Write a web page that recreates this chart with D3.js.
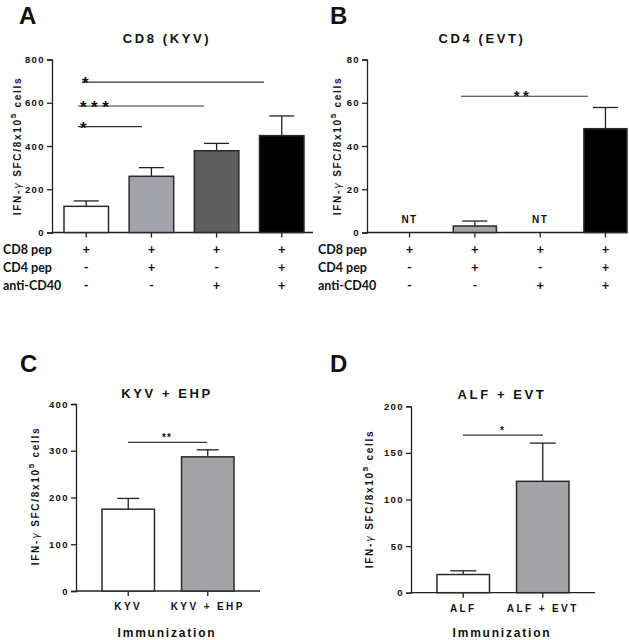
<!DOCTYPE html>
<html><head><meta charset="utf-8">
<script src="https://cdn.jsdelivr.net/npm/d3@7"></script>
<style>
body{margin:0;background:#fff;}
svg{display:block;}
text{font-family:"Liberation Sans",Arial,sans-serif;fill:#111;}
</style></head>
<body>
<svg id="chart" width="629" height="640"></svg>
<script>
// ---------- data ----------
const rowLabels = ["CD8 pep", "CD4 pep", "anti-CD40"];
const groupSigns = [["+","-","-"],["+","+","-"],["+","-","+"],["+","+","+"]];
const groupIds = ["g1","g2","g3","g4"];

const cd8Means = [121, 260, 378, 448];
const cd8Sem   = [25, 40, 34, 91];
const cd8Ticks = [0, 200, 400, 600, 800];

const cd4Means = [null, 3, null, 48];
const cd4Sem   = [null, 2.3, null, 9.8];
const cd4Ticks = [0, 20, 40, 60, 80];

const kyvCats  = ["KYV", "KYV + EHP"];
const kyvMeans = [175, 287];
const kyvSem   = [23, 15];
const kyvTicks = [0, 100, 200, 300, 400];

const alfCats  = ["ALF", "ALF + EVT"];
const alfMeans = [19.5, 119.5];
const alfSem   = [4, 41];
const alfTicks = [0, 50, 100, 150, 200];

// ---------- drawing ----------
const svg = d3.select("#chart");
const AX = "#222";

function panel(o){
  const g = svg.append("g");
  const y = d3.scaleLinear().domain([0, o.ticks[o.ticks.length-1]]).range([o.y0, o.y1]);
  const x = d3.scaleBand().domain(o.cats).range(o.xr).paddingInner(o.pad).paddingOuter(0);

  // letter + title
  g.append("text").attr("x", o.letterX).attr("y", o.letterY)
    .style("font-size","24px").style("font-weight","bold").text(o.letter);
  g.append("text").attr("x", o.titleX).attr("y", o.titleY).attr("text-anchor","middle")
    .style("font-size","13px").style("font-weight","bold").style("letter-spacing","2.6px")
    .text(o.title);

  // y axis
  const ya = g.append("g").attr("transform",`translate(${o.ax},0)`)
    .call(d3.axisLeft(y).tickValues(o.ticks).tickSize(5).tickPadding(2));
  ya.select(".domain").attr("stroke",AX).attr("stroke-width",1.3);
  ya.selectAll(".tick line").attr("stroke",AX).attr("stroke-width",1.3);
  ya.selectAll(".tick text").style("font-size","9.5px").style("font-weight","bold")
    .style("letter-spacing","1.4px").style("font-family","'Liberation Sans',Arial,sans-serif").attr("fill","#111");

  // x axis
  const xa = g.append("g").attr("transform",`translate(0,${o.y0})`)
    .call(d3.axisBottom(x).tickSize(5).tickFormat(""));
  xa.select(".domain").remove();
  xa.selectAll(".tick line").attr("stroke",AX).attr("stroke-width",1.3);
  g.append("line").attr("x1",o.ax).attr("x2",o.axEnd).attr("y1",o.y0).attr("y2",o.y0)
    .attr("stroke",AX).attr("stroke-width",1.3);

  // y label
  const yl = g.append("text").attr("transform",`translate(${o.ylX},${o.ylY}) rotate(-90)`)
    .attr("text-anchor","middle").style("font-size","10px").style("font-weight","bold")
    .style("letter-spacing","1.7px");
  yl.append("tspan").text("IFN-");
  yl.append("tspan").style("font-family","'DejaVu Sans',sans-serif").style("font-weight","normal").style("font-style","italic").text("γ");
  yl.append("tspan").text(" SFC/8x10");
  yl.append("tspan").attr("dy",-5).style("font-size","8px").text("5");
  yl.append("tspan").attr("dy",5).text(" cells");

  // bars + error bars
  const cap = o.cap;
  o.means.forEach((m,i)=>{
    const cx = x(o.cats[i]) + x.bandwidth()/2;
    if(m === null){
      g.append("text").attr("x",cx).attr("y",o.y0-10).attr("text-anchor","middle")
        .style("font-size","10px").style("font-weight","bold").style("letter-spacing","1.5px").text("NT");
      return;
    }
    const top = y(m + o.sem[i]);
    g.append("line").attr("x1",cx).attr("x2",cx).attr("y1",y(m)).attr("y2",top).attr("stroke",AX).attr("stroke-width",1.3);
    g.append("line").attr("x1",cx-cap/2).attr("x2",cx+cap/2).attr("y1",top).attr("y2",top).attr("stroke",AX).attr("stroke-width",1.3);
    g.append("rect").attr("x",x(o.cats[i])).attr("width",x.bandwidth())
      .attr("y",y(m)).attr("height",o.y0-y(m))
      .attr("fill",o.colors[i]).attr("stroke","#2a2a2a").attr("stroke-width",1.5);
  });

  // significance lines
  o.sig.forEach(s=>{
    g.append("line").attr("x1",s.x1).attr("x2",s.x2).attr("y1",y(s.v)).attr("y2",y(s.v))
      .attr("stroke","#333").attr("stroke-width",1.2);
    g.append("text").attr("x",s.tx).attr("y",y(s.v)+s.dy).attr("text-anchor",s.anchor)
      .style("font-size",s.fs+"px").style("font-weight","bold").style("letter-spacing",s.ls+"px").text(s.label);
  });

  return {g, x};
}

// Panel A
const pA = panel({letter:"A", letterX:19, letterY:24, title:"CD8 (KYV)", titleX:167, titleY:43,
  ticks:cd8Ticks, y0:232.5, y1:59.5, ax:52, axEnd:313, xr:[64,304], pad:0.317, cats:groupIds,
  ylX:21, ylY:146, means:cd8Means, sem:cd8Sem, cap:25,
  colors:["#ffffff","#a3a3ab","#5f5f5f","#000000"],
  sig:[{x1:82,x2:264,v:695,tx:82,dy:7,anchor:"start",fs:17,ls:0,label:"*"},
       {x1:78,x2:204,v:585,tx:80,dy:7,anchor:"start",fs:17,ls:4.5,label:"***"},
       {x1:78,x2:142,v:490,tx:80,dy:7,anchor:"start",fs:17,ls:0,label:"*"}]});

// Panel B
const pB = panel({letter:"B", letterX:330, letterY:24, title:"CD4 (EVT)", titleX:482, titleY:43,
  ticks:cd4Ticks, y0:232.5, y1:59.5, ax:367, axEnd:627, xr:[388,627], pad:0.34, cats:groupIds,
  ylX:341, ylY:146, means:cd4Means, sem:cd4Sem, cap:25,
  colors:["#ffffff","#a6a6a6","#5f5f5f","#000000"],
  sig:[{x1:461,x2:588,v:63,tx:523,dy:5,anchor:"middle",fs:15,ls:3.5,label:"**"}]});

// row labels for A and B
[[pA,3],[pB,318]].forEach(([p,lx])=>{
  rowLabels.forEach((r,j)=>{
    const yy = 254 + j*18;
    p.g.append("text").attr("x",lx).attr("y",yy)
      .style("font-family","Lato,'Open Sans',sans-serif").style("font-size","12.5px").style("font-weight","bold").text(r);
    groupSigns.forEach((s,i)=>{
      p.g.append("text").attr("x",p.x(groupIds[i])+p.x.bandwidth()/2).attr("y",yy)
        .attr("text-anchor","middle").style("font-family","Lato,'Open Sans',sans-serif")
        .style("font-size","13px").style("font-weight","bold").text(s[j]);
    });
  });
});

// Panel C
const pC = panel({letter:"C", letterX:20, letterY:372, title:"KYV + EHP", titleX:167, titleY:398,
  ticks:kyvTicks, y0:591, y1:404, ax:76, axEnd:260, xr:[102,234], pad:0.34, cats:kyvCats,
  ylX:39, ylY:496, means:kyvMeans, sem:kyvSem, cap:22,
  colors:["#ffffff","#a2a2a6"],
  sig:[{x1:128,x2:207,v:318,tx:167,dy:-1,anchor:"middle",fs:10,ls:1,label:"**"}]});

// Panel D
const pD = panel({letter:"D", letterX:330, letterY:372, title:"ALF + EVT", titleX:502, titleY:399,
  ticks:alfTicks, y0:592.7, y1:406.3, ax:411, axEnd:595, xr:[437,569], pad:0.34, cats:alfCats,
  ylX:373, ylY:499, means:alfMeans, sem:alfSem, cap:26,
  colors:["#ffffff","#a3a3a8"],
  sig:[{x1:463,x2:543,v:169,tx:502,dy:-1,anchor:"middle",fs:10,ls:0,label:"*"}]});

// category labels + x titles for C, D
[[pC,kyvCats,167,610],[pD,alfCats,502,612]].forEach(([p,cats,cx,yy])=>{
  cats.forEach(c=>{
    p.g.append("text").attr("x",p.x(c)+p.x.bandwidth()/2).attr("y",yy).attr("text-anchor","middle")
      .style("font-size","10px").style("font-weight","bold").style("letter-spacing","2.4px").text(c);
  });
  p.g.append("text").attr("x",cx).attr("y",637).attr("text-anchor","middle")
    .style("font-size","12px").style("font-weight","bold").style("letter-spacing","1.8px").text("Immunization");
});
</script>
</body></html>
